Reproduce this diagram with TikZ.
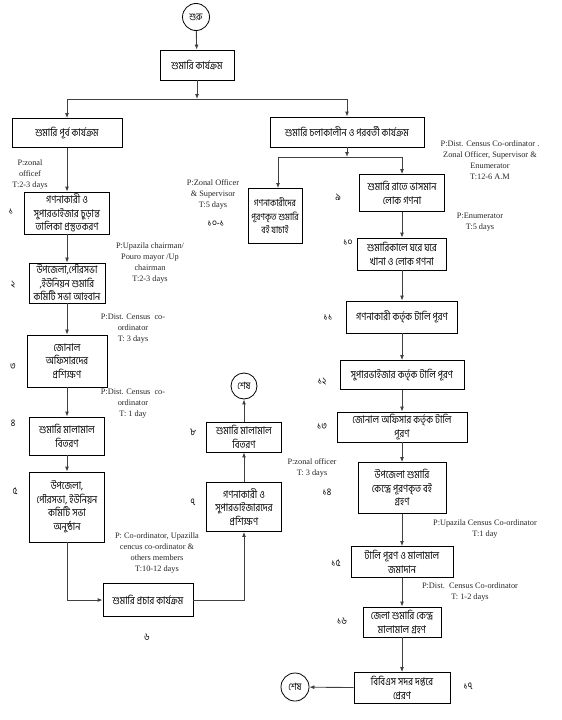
\documentclass[tikz,border=0pt]{standalone}
\usepackage{fontspec}
\setmainfont{Liberation Serif}
\newfontfamily\bn[Script=Bengali, FakeStretch=0.86]{Hind Siliguri}
\usetikzlibrary{arrows.meta}
\begin{document}
\begin{tikzpicture}[x=1pt,y=-1pt,
  box/.style={draw, line width=0.8pt, align=center, inner sep=1pt, font=\bn\fontsize{10.6}{13.5}\selectfont},
  term/.style={draw, circle, line width=0.8pt, inner sep=0pt, font=\bn\fontsize{10}{11}\selectfont},
  num/.style={font=\bn\fontsize{10}{11}\selectfont},
  note/.style={align=center, inner sep=0pt, font=\fontsize{8.3}{11}\selectfont, text=black!85},
  conn/.style={line width=0.9pt, draw=black!75},
  arr/.style={conn, -{Latex[length=5pt,width=4pt]}}
]
\useasboundingbox (0,0) rectangle (562,720);

% top
\node[term, minimum size=27pt] (start) at (196,17) {শুরু};
\node[box, minimum width=74pt, minimum height=30pt] (b0) at (197,65) {শুমারি কার্যক্রম};
\node[box, minimum width=110pt, minimum height=29pt] (bL) at (67,133) {শুমারি পূর্ব কার্যক্রম};
\node[box, minimum width=154pt, minimum height=30pt] (bR) at (347,132) {শুমারি চলাকালীন  ও পরবর্তী কার্যক্রম};

% left column
\node[box, minimum width=85pt, minimum height=42pt] (b1) at (67,213) {গণনাকারী ও\\সুপারভাইজার চুড়ান্ত\\তালিকা প্রস্তুতকরণ};
\node[box, minimum width=76pt, minimum height=40pt] (b2) at (67,283) {উপজেলা,পৌরসভা\\,ইউনিয়ন শুমারি\\কমিটি সভা আহবান};
\node[box, minimum width=80pt, minimum height=52pt] (b3) at (67,361) {জোনাল\\অফিসারদের\\প্রশিক্ষণ};
\node[box, minimum width=75pt, minimum height=38pt] (b4) at (67,436) {শুমারি মালামাল\\বিতরণ};
\node[box, minimum width=75pt, minimum height=70pt] (b5) at (67,507) {উপজেলা,\\পৌরসভা, ইউনিয়ন\\কমিটি সভা\\অনুষ্ঠান};
\node[box, minimum width=90pt, minimum height=33pt] (b6) at (148,600) {শুমারি প্রচার কার্যক্রম};
\node[box, minimum width=75pt, minimum height=49pt] (b7) at (244,507) {গণনাকারী ও\\সুপারভাইজারদের\\প্রশিক্ষণ};
\node[box, minimum width=75pt, minimum height=30pt] (b8) at (244,437) {শুমারি মালামাল\\বিতরণ};
\node[term, minimum size=26pt] (end1) at (244,386) {শেষ};

% right column
\node[box, minimum width=54pt, minimum height=55pt, font=\bn\fontsize{9.6}{13.5}\selectfont] (b101) at (275,216) {গণনাকারীদের\\পূরণকৃত শুমারি\\বই যাচাই};
\node[box, minimum width=85pt, minimum height=37pt] (b9) at (402,193) {শুমারি রাতে ভাসমান\\লোক গণনা};
\node[box, minimum width=89pt, minimum height=32pt] (b10) at (402,254) {শুমারিকালে ঘরে ঘরে\\খানা ও লোক গণনা};
\node[box, minimum width=111pt, minimum height=32pt] (b11) at (402,317) {গণনাকারী কর্তৃক টালি পূরণ};
\node[box, minimum width=124pt, minimum height=29pt] (b12) at (402,375) {সুপারভাইজার কর্তৃক টালি পূরণ};
\node[box, minimum width=130pt, minimum height=30pt] (b13) at (402,427) {জোনাল অফিসার কর্তৃক টালি\\পূরণ};
\node[box, minimum width=88pt, minimum height=51pt] (b14) at (402,488) {উপজেলা শুমারি\\কেন্দ্রে পূরণকৃত বই\\গ্রহণ};
\node[box, minimum width=102pt, minimum height=31pt] (b15) at (402,562) {টালি পূরণ ও মালামাল\\জমাদান};
\node[box, minimum width=78pt, minimum height=30pt] (b16) at (402,622) {জেলা শুমারি কেন্দ্র\\মালামাল গ্রহণ};
\node[box, minimum width=96pt, minimum height=31pt] (b17) at (402,688) {বিবিএস সদর দপ্তরে\\প্রেরণ};
\node[term, minimum size=28pt] (end2) at (295,687) {শেষ};

% numbers
\node[num] (n1) at (11,212) {১};
\node[num] (n2) at (13,285) {২};
\node[num] (n3) at (13,367) {৩};
\node[num] (n4) at (13,423) {৪};
\node[num] (n5) at (15,491) {৫};
\node[num] (n6) at (147,637) {৬};
\node[num] (n7) at (193,502) {৭};
\node[num] (n8) at (193,432) {৮};
\node[num] (n101) at (216,224) {১০-১};
\node[num] (n9) at (338,197) {৯};
\node[num] (n10) at (348,243) {১০};
\node[num] (n11) at (328,318) {১১};
\node[num] (n12) at (322,382) {১২};
\node[num] (n13) at (322,427) {১৩};
\node[num] (n14) at (327,492) {১৪};
\node[num] (n15) at (336,563) {১৫};
\node[num] (n16) at (342,621) {১৬};
\node[num] (n17) at (468,686) {১৭};

% notes
\node[note] (t1) at (30,175) {P:zonal\\officef\\T:2-3 days};
\node[note] (t2) at (150,263) {P:Upazila chairman/\\Pouro mayor /Up\\chairman\\T:2-3 days};
\node[note] (t3) at (133,329) {P:Dist. Census~~co-\\ordinator\\T: 3 days};
\node[note] (t4) at (133,404) {P:Dist. Census~~co-\\ordinator\\T: 1 day};
\node[note] (t5) at (157,553) {P: Co-ordinator, Upazilla\\cencus co-ordinator \&\\others members\\T:10-12 days};
\node[note] (t6) at (312,468) {P:zonal officer\\T: 3 days};
\node[note] (t7) at (213,194) {P:Zonal Officer\\\& Supervisor\\T:5 days};
\node[note] (t8) at (490,160) {P:Dist. Census Co-ordinator .\\Zonal Officer, Supervisor \&\\Enumerator\\T:12-6 A.M};
\node[note] (t9) at (480,222) {P:Enumerator\\T:5 days};
\node[note] (t10) at (485,529) {P:Upazila Census Co-ordinator\\T:1 day};
\node[note] (t11) at (470,592) {P:Dist.~~Census Co-ordinator\\T: 1-2 days};

% junctions
\coordinate (j1) at (197,99);
\coordinate (j1l) at (67,99);
\coordinate (j1r) at (347,99);
\coordinate (j2) at (347,157);
\coordinate (j2l) at (278,157);
\coordinate (j2r) at (402,157);

% connectors
\draw[arr] (start) -- (b0);
\draw[arr] (b0) -- (j1);
\draw[conn] (j1l) -- (j1r);
\draw[arr] (j1l) -- (bL);
\draw[arr] (j1r) -- (bR);
\draw[arr] (bR) -- (j2);
\draw[conn] (j2l) -- (j2r);
\draw[arr] (j2l) -- (j2l |- b101.north);
\draw[arr] (j2r) -- (b9);

\draw[arr] (bL) -- (b1);
\draw[arr] (b1) -- (b2);
\draw[arr] (b2) -- (b3);
\draw[arr] (b3) -- (b4);
\draw[arr] (b4) -- (b5);
\draw[arr] (b5.south) |- (b6.west);
\draw[arr] (b6.east) -| (b7.south);
\draw[arr] (b7) -- (b8);
\draw[arr] (b8) -- (end1);

\draw[arr] (b9) -- (b10);
\draw[arr] (b10) -- (b11);
\draw[arr] (b11) -- (b12);
\draw[arr] (b12) -- (b13);
\draw[arr] (b13) -- (b14);
\draw[arr] (b14) -- (b15);
\draw[arr] (b15) -- (b16);
\draw[arr] (b16) -- (b17);
\draw[arr] (b17) -- (end2);
\end{tikzpicture}
\end{document}
